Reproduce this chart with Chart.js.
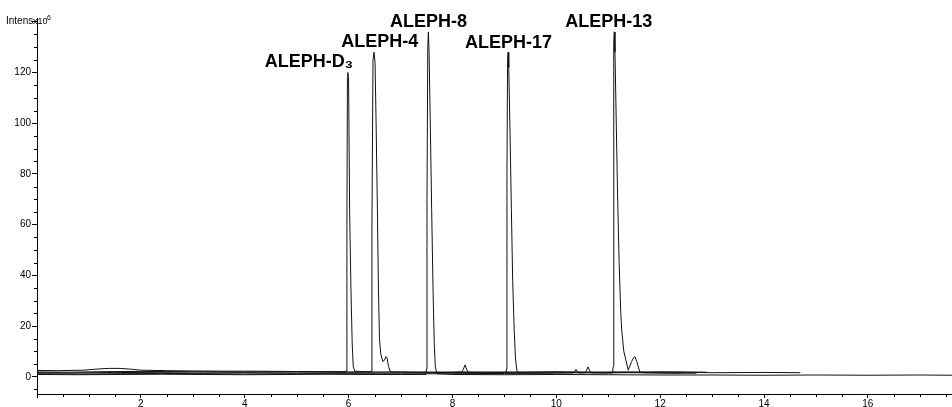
<!DOCTYPE html>
<html>
<head>
<meta charset="utf-8">
<script src="https://cdn.jsdelivr.net/npm/chart.js@4.4.1/dist/chart.umd.min.js"></script>
<style>
  html, body { margin: 0; padding: 0; background: #fff; }
  #c { display: block; }
</style>
</head>
<body>
<canvas id="c" width="952" height="407"></canvas>
<script>
// ---- data (retention time in min, intensity x10^6) ----
const tD3 = [0, 0.4, 0.9, 1.2, 1.4, 1.6, 1.8, 2.0, 2.5, 3.0, 3.6, 4.2, 4.8, 5.4, 5.9, 5.96, 5.968, 5.978, 5.985, 6.0, 6.02, 6.045, 6.07, 6.09, 6.12, 6.4, 7.0, 7.6, 8.2, 8.8, 9.4, 10.0, 10.6, 11.2, 11.8, 12.4, 12.9];
const iD3 = [2.5, 2.4, 2.6, 3.1, 3.3, 3.3, 3.0, 2.6, 2.4, 2.3, 2.2, 2.2, 2.1, 2.0, 2.0, 2.2, 60, 118, 120, 118, 66, 35, 13, 4, 2.2, 1.9, 1.9, 1.8, 1.9, 1.8, 1.8, 1.9, 1.8, 1.9, 1.8, 1.9, 1.8];

const t4 = [0, 0.6, 1.2, 2.0, 3.0, 4.0, 5.0, 6.0, 6.40, 6.44, 6.45, 6.47, 6.49, 6.51, 6.53, 6.555, 6.575, 6.595, 6.62, 6.66, 6.69, 6.72, 6.74, 6.77, 6.80, 6.85, 7.2, 8.0, 9.0, 10.0, 11.0, 12.0, 13.0, 14.0, 14.7];
const i4 = [1.9, 1.8, 2.0, 2.1, 2.0, 1.9, 2.0, 1.9, 2.0, 2.2, 60, 125, 128, 124, 100, 66, 35, 15, 9, 6, 6.5, 8, 7.5, 4, 2.2, 1.9, 1.8, 1.7, 1.8, 1.9, 1.7, 1.9, 1.6, 1.7, 1.6];

const t8 = [0, 0.8, 1.6, 2.4, 3.2, 4.0, 4.8, 5.6, 6.4, 7.0, 7.49, 7.50, 7.51, 7.525, 7.537, 7.55, 7.575, 7.60, 7.625, 7.65, 7.67, 7.70, 8.0, 9.0, 10.0, 11.0, 12.0, 13.0, 14.0, 15.0, 16.0, 17.0, 17.62];
const i8 = [0.9, 0.8, 0.9, 1.0, 0.9, 0.8, 0.9, 1.0, 0.9, 0.9, 0.9, 3, 70, 130, 136, 128, 98, 66, 36, 13, 4, 1.2, 0.9, 0.8, 0.9, 0.8, 0.7, 0.7, 0.6, 0.7, 0.6, 0.7, 0.6];

const t17 = [0, 0.7, 1.5, 2.3, 3.1, 4.0, 5.0, 6.0, 7.0, 7.8, 8.18, 8.22, 8.245, 8.27, 8.31, 8.6, 9.03, 9.04, 9.05, 9.062, 9.072, 9.085, 9.11, 9.135, 9.16, 9.19, 9.215, 9.24, 9.27, 9.6, 10.2, 10.8, 11.4, 12.0, 12.4];
const i17 = [1.6, 1.5, 1.7, 1.6, 1.5, 1.6, 1.5, 1.6, 1.5, 1.6, 1.8, 3.5, 4.7, 3, 1.6, 1.5, 1.6, 3, 80, 125, 128, 122, 95, 66, 38, 18, 7, 2.5, 1.6, 1.5, 1.6, 1.5, 1.6, 1.5, 1.5];

const t13 = [0, 0.8, 1.6, 2.4, 3.2, 4.0, 5.0, 6.0, 7.0, 8.0, 9.0, 9.8, 10.33, 10.38, 10.43, 10.56, 10.61, 10.66, 10.9, 11.085, 11.095, 11.103, 11.11, 11.117, 11.13, 11.155, 11.18, 11.21, 11.24, 11.26, 11.30, 11.34, 11.385, 11.45, 11.49, 11.515, 11.55, 11.58, 11.61, 11.7, 12.0, 12.4, 12.7];
const i13 = [1.2, 1.1, 1.2, 1.3, 1.2, 1.1, 1.2, 1.2, 1.1, 1.2, 1.3, 1.4, 1.5, 2.9, 1.5, 1.6, 3.9, 1.6, 1.5, 1.5, 4, 90, 132, 136, 128, 100, 72, 45, 26, 18.4, 10, 6.6, 2.6, 6, 7.6, 7.9, 6, 3.9, 1.8, 1.6, 1.5, 1.4, 1.4];

const peakNames = ['ALEPH-D\u2083', 'ALEPH-4', 'ALEPH-8', 'ALEPH-17', 'ALEPH-13'];
const peakLabelTime = [5.236, 6.60, 7.54, 9.08, 11.01];
const peakLabelIntensity = [122.0, 130.2, 137.8, 129.5, 137.8];

const xTickLabels = [2, 4, 6, 8, 10, 12, 14, 16];
const yTickLabels = [0, 20, 40, 60, 80, 100, 120];

// ---- build datasets ----
function pts(t, v) { return t.map((x, k) => ({ x: x, y: v[k] })); }
const traces = [pts(tD3, iD3), pts(t4, i4), pts(t8, i8), pts(t17, i17), pts(t13, i13)];

const FONT = '"Liberation Sans", Arial, Helvetica, sans-serif';

const extrasPlugin = {
  id: 'extras',
  afterDraw(chart) {
    const ctx = chart.ctx;
    const xs = chart.scales.x, ys = chart.scales.y;
    const area = chart.chartArea;
    ctx.save();
    // minor ticks
    ctx.strokeStyle = '#000';
    ctx.lineWidth = 1;
    ctx.beginPath();
    for (let v = 0.5; v < xs.max; v += 0.5) {
      if (Math.abs(v / 2 - Math.round(v / 2)) < 1e-6) continue;
      const px = Math.round(xs.getPixelForValue(v)) + 0.5;
      ctx.moveTo(px, area.bottom);
      ctx.lineTo(px, area.bottom + 3);
    }
    for (let v = -5; v < ys.max; v += 5) {
      if (Math.abs(v / 20 - Math.round(v / 20)) < 1e-6) continue;
      const py = Math.round(ys.getPixelForValue(v)) + 0.5;
      ctx.moveTo(area.left - 3, py);
      ctx.lineTo(area.left, py);
    }
    ctx.stroke();

    // peak labels
    ctx.fillStyle = '#000';
    ctx.font = 'bold 18px ' + FONT;
    ctx.textAlign = 'center';
    ctx.textBaseline = 'alphabetic';
    peakNames.forEach((name, k) => {
      ctx.fillText(name, xs.getPixelForValue(peakLabelTime[k]), ys.getPixelForValue(peakLabelIntensity[k]));
    });

    // axis unit label
    ctx.textAlign = 'left';
    ctx.font = '10px ' + FONT;
    ctx.fillText('Intens', 6, 24);
    ctx.font = '9px ' + FONT;
    ctx.fillText('x10', 33, 24);
    ctx.font = '7px ' + FONT;
    ctx.fillText('6', 47, 20);
    ctx.restore();
  }
};

new Chart(document.getElementById('c'), {
  type: 'line',
  data: {
    datasets: traces.map(d => ({
      data: d,
      borderColor: '#111',
      borderWidth: 1,
      pointRadius: 0,
      tension: 0,
      fill: false
    }))
  },
  options: {
    responsive: false,
    animation: false,
    devicePixelRatio: 1,
    layout: { padding: { top: 18, left: 0, right: 0, bottom: 0 } },
    plugins: { legend: { display: false }, tooltip: { enabled: false }, title: { display: false } },
    scales: {
      x: {
        type: 'linear',
        min: 0,
        max: 17.62,
        afterFit(s) { s.height = 13; },
        border: { display: true, color: '#000', width: 1 },
        grid: { display: true, drawOnChartArea: false, drawTicks: true, tickLength: 4, color: '#000' },
        ticks: {
          stepSize: 2,
          includeBounds: false,
          autoSkip: false,
          maxRotation: 0,
          padding: 0,
          color: '#000',
          font: { family: FONT, size: 10 },
          callback: v => (xTickLabels.includes(v) ? String(v) : '')
        }
      },
      y: {
        type: 'linear',
        min: -6.8,
        max: 141.5,
        afterFit(s) { s.width = 37; },
        border: { display: true, color: '#000', width: 1 },
        grid: { display: true, drawOnChartArea: false, drawTicks: true, tickLength: 5, color: '#000' },
        ticks: {
          stepSize: 20,
          includeBounds: false,
          autoSkip: false,
          padding: 1,
          color: '#000',
          font: { family: FONT, size: 10 },
          callback: v => (yTickLabels.includes(v) ? String(v) : '')
        }
      }
    }
  },
  plugins: [extrasPlugin]
});
</script>
</body>
</html>
